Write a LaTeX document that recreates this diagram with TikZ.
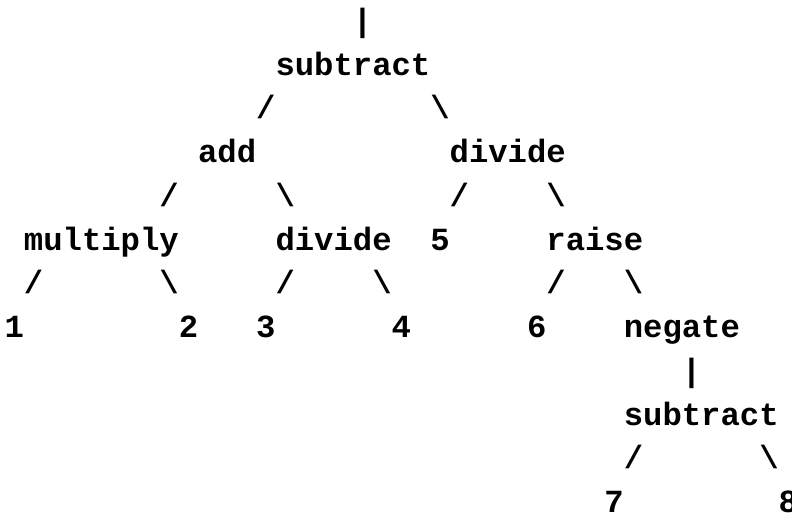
\documentclass[tikz,border=0pt]{standalone}
\usepackage{fontspec}
\setmonofont{Liberation Mono}
\newcommand\tokfont{\ttfamily\bfseries\fontsize{32.25pt}{40pt}\selectfont}
\newcommand\cellat[4]{\node[tok] (#1) at ({4.6pt+19.35pt*#2},{-31.25pt-43.75pt*#3}) {#4};}
\tikzset{tok/.style={anchor=base west, inner sep=0pt, outer sep=0pt, font=\tokfont, text=black}}
\begin{document}
\begin{tikzpicture}
\fill[white] (0pt,0pt) rectangle (792pt,-515pt);
\useasboundingbox (0pt,0pt) rectangle (792pt,-515pt);
% row 0
\cellat{b0}{18}{0}{|}
% row 1
\cellat{root}{14}{1}{subtract}
% row 2
\cellat{s2a}{13}{2}{/}
\cellat{s2b}{22}{2}{\textbackslash}
% row 3
\cellat{add}{10}{3}{add}
\cellat{divA}{23}{3}{divide}
% row 4
\cellat{s4a}{8}{4}{/}
\cellat{s4b}{14}{4}{\textbackslash}
\cellat{s4c}{23}{4}{/}
\cellat{s4d}{28}{4}{\textbackslash}
% row 5
\cellat{mul}{1}{5}{multiply}
\cellat{divB}{14}{5}{divide}
\cellat{five}{22}{5}{5}
\cellat{raise}{28}{5}{raise}
% row 6
\cellat{s6a}{1}{6}{/}
\cellat{s6b}{8}{6}{\textbackslash}
\cellat{s6c}{14}{6}{/}
\cellat{s6d}{19}{6}{\textbackslash}
\cellat{s6e}{28}{6}{/}
\cellat{s6f}{32}{6}{\textbackslash}
% row 7
\cellat{one}{0}{7}{1}
\cellat{two}{9}{7}{2}
\cellat{three}{13}{7}{3}
\cellat{four}{20}{7}{4}
\cellat{six}{27}{7}{6}
\cellat{neg}{32}{7}{negate}
% row 8
\cellat{b8}{35}{8}{|}
% row 9
\cellat{sub2}{32}{9}{subtract}
% row 10
\cellat{s10a}{32}{10}{/}
\cellat{s10b}{39}{10}{\textbackslash}
% row 11
\cellat{seven}{31}{11}{7}
\cellat{eight}{40}{11}{8}
\end{tikzpicture}
\end{document}
